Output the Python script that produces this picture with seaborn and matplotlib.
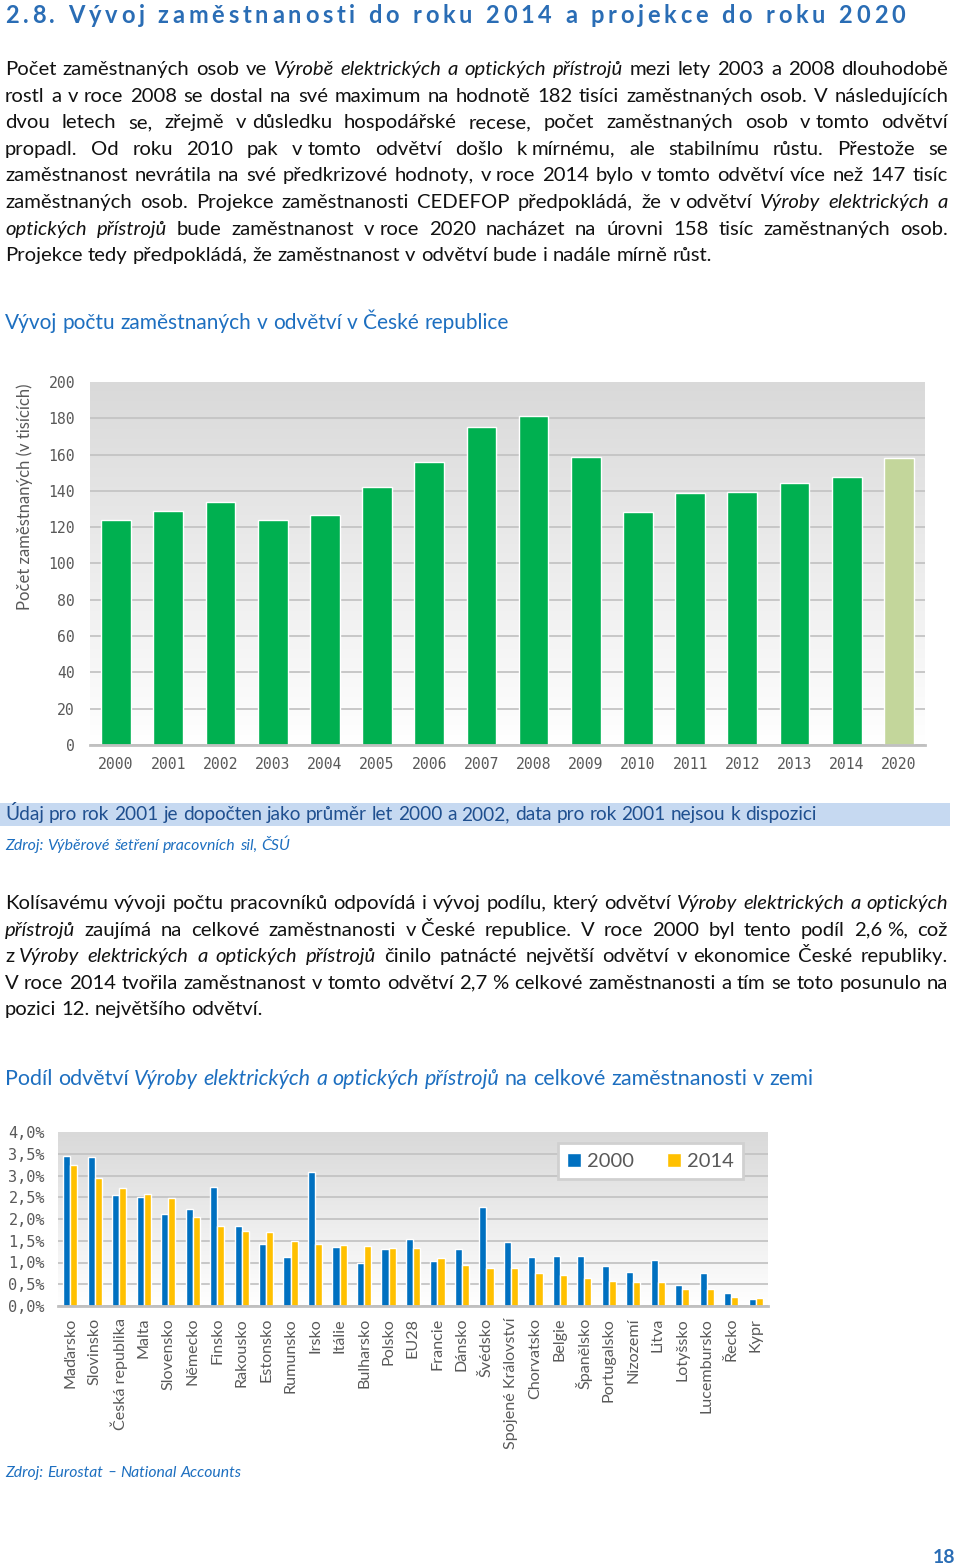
import numpy as np
import pandas as pd
import matplotlib
matplotlib.use("Agg")
import matplotlib.pyplot as plt
import seaborn as sns
from matplotlib.colors import LinearSegmentedColormap
from matplotlib.ticker import FuncFormatter
from matplotlib.patches import Rectangle

# ---------------- data ----------------
years = ["2000", "2001", "2002", "2003", "2004", "2005", "2006", "2007",
         "2008", "2009", "2010", "2011", "2012", "2013", "2014", "2020"]
employment_thousands = [124, 129, 134, 124, 126.5, 142, 156, 175,
                        181.5, 158.5, 128.5, 139, 139.5, 144.5, 147.5, 158]
bar_kind = ["actual"] * 15 + ["projection"]
emp_ticks = [0, 20, 40, 60, 80, 100, 120, 140, 160, 180, 200]

countries = ["Maďarsko", "Slovinsko", "Česká republika", "Malta", "Slovensko",
             "Německo", "Finsko", "Rakousko", "Estonsko", "Rumunsko", "Irsko",
             "Itálie", "Bulharsko", "Polsko", "EU28", "Francie", "Dánsko",
             "Švédsko", "Spojené Království", "Chorvatsko", "Belgie", "Španělsko",
             "Portugalsko", "Nizozemí", "Litva", "Lotyšsko", "Lucembursko",
             "Řecko", "Kypr"]
share_2000 = [3.45, 3.42, 2.56, 2.51, 2.12, 2.24, 2.74, 1.83, 1.43, 1.13, 3.08,
              1.36, 0.99, 1.30, 1.53, 1.03, 1.32, 2.27, 1.48, 1.12, 1.16, 1.15,
              0.93, 0.78, 1.06, 0.49, 0.77, 0.31, 0.15]
share_2014 = [3.25, 2.95, 2.72, 2.57, 2.48, 2.05, 1.83, 1.72, 1.69, 1.49, 1.43,
              1.41, 1.38, 1.34, 1.33, 1.11, 0.95, 0.88, 0.88, 0.75, 0.71, 0.65,
              0.58, 0.56, 0.55, 0.40, 0.38, 0.20, 0.18]
share_years = ["2000", "2014"]
share_ticks = [0.0, 0.5, 1.0, 1.5, 2.0, 2.5, 3.0, 3.5, 4.0]

# ---------------- texts ----------------
page_title = "2.8. Vývoj zaměstnanosti do roku 2014 a projekce do roku 2020"
para1 = [
    [("Počet zaměstnaných osob ve ", False), ("Výrobě elektrických a optických přístrojů", True),
     (" mezi lety 2003 a 2008 dlouhodobě", False)],
    [("rostl a v~roce 2008 se dostal na své maximum na hodnotě 182 tisíci zaměstnaných osob. V následujících", False)],
    [("dvou letech se, zřejmě v~důsledku hospodářské recese, počet zaměstnaných osob v~tomto odvětví", False)],
    [("propadl. Od roku 2010 pak v~tomto odvětví došlo k~mírnému, ale stabilnímu růstu. Přestože se", False)],
    [("zaměstnanost nevrátila na své předkrizové hodnoty, v~roce 2014 bylo v~tomto odvětví více než 147 tisíc", False)],
    [("zaměstnaných osob. Projekce zaměstnanosti CEDEFOP předpokládá, že v~odvětví ", False),
     ("Výroby elektrických a", True)],
    [("optických přístrojů", True),
     (" bude zaměstnanost v~roce 2020 nacházet na úrovni 158 tisíc zaměstnaných osob.", False)],
    [("Projekce tedy předpokládá, že zaměstnanost v~odvětví bude i nadále mírně růst.", False)],
]
chart1_title = [("Vývoj počtu zaměstnaných v odvětví v České republice", False)]
chart1_ylabel = "Počet zaměstnaných (v tisících)"
note_line = [("Údaj pro rok 2001 je dopočten jako průměr let 2000 a 2002, data pro rok 2001 nejsou k dispozici", False)]
source1 = [("Zdroj: Výběrové šetření pracovních sil, ČSÚ", True)]
para2 = [
    [("Kolísavému vývoji počtu pracovníků odpovídá i vývoj podílu, který odvětví ", False),
     ("Výroby elektrických a optických", True)],
    [("přístrojů", True),
     (" zaujímá na celkové zaměstnanosti v~České republice. V roce 2000 byl tento podíl 2,6~%, což", False)],
    [("z~", False), ("Výroby elektrických a optických přístrojů", True),
     (" činilo patnácté největší odvětví v~ekonomice České republiky.", False)],
    [("V~roce 2014 tvořila zaměstnanost v~tomto odvětví 2,7~% celkové zaměstnanosti a tím se toto posunulo na", False)],
    [("pozici 12. největšího odvětví.", False)],
]
chart2_title = [("Podíl odvětví ", False), ("Výroby elektrických a optických přístrojů", True),
                (" na celkové zaměstnanosti v zemi", False)]
source2 = [("Zdroj: Eurostat – National Accounts", True)]
page_number = "18"

# ---------------- setup ----------------
sns.set_style("white")
BODY = ["Lato", "DejaVu Sans"]
MONO = ["DejaVu Sans Mono"]
plt.rcParams["font.family"] = BODY

W, H = 960, 1567
fig = plt.figure(figsize=(W / 100, H / 100), dpi=100)
fig.patch.set_facecolor("white")
renderer = fig.canvas.get_renderer()

BLUE_T = "#2a6db5"
BLUE_C = "#1d6fc0"
TEXT = "#111111"
GRAY = "#595959"


def fx(x):
    return x / W


def fy(y):
    return 1 - y / H


def wtext(s, size, italic=False, weight="normal", family=None):
    t = fig.text(0, 0, s, fontsize=size, style="italic" if italic else "normal",
                 weight=weight, family=family or BODY)
    w = t.get_window_extent(renderer).width
    t.remove()
    return w


def space_w(size, italic=False, weight="normal"):
    return wtext("n n", size, italic, weight) - wtext("nn", size, italic, weight)


def tokenize(line):
    toks = []
    pending = "none"
    for text, it in line:
        buf = ""
        for ch in text:
            if ch in " ~":
                if buf:
                    toks.append([buf, it, pending])
                    buf = ""
                pending = "stretch" if ch == " " else "tie"
            else:
                buf += ch
        if buf:
            toks.append([buf, it, pending])
            pending = "none"
    return toks


def layout(line, size, weight="normal"):
    toks = tokenize(line)
    widths = [wtext(s, size, it, weight) for s, it, _ in toks]
    sw = space_w(size, False, weight)
    return toks, widths, sw


def natural_width(line, size, weight="normal"):
    toks, widths, sw = layout(line, size, weight)
    gaps = sum(sw for t in toks[1:] if t[2] in ("stretch", "tie"))
    return sum(widths) + gaps


def draw_line(line, x0, yb, size, color, x1=None, weight="normal"):
    toks, widths, sw = layout(line, size, weight)
    nst = sum(1 for t in toks[1:] if t[2] == "stretch")
    nti = sum(1 for t in toks[1:] if t[2] == "tie")
    g = sw
    if x1 is not None and nst:
        g = (x1 - x0 - sum(widths) - nti * sw) / nst
    x = x0
    for i, ((s, it, gt), w) in enumerate(zip(toks, widths)):
        if i > 0:
            x += g if gt == "stretch" else (sw if gt == "tie" else 0)
        fig.text(fx(x), fy(yb), s, fontsize=size, style="italic" if it else "normal",
                 weight=weight, color=color, ha="left", va="baseline", family=BODY)
        x += w


def draw_tracked(text, x0, x1, yb, size, color, weight="bold"):
    sw = space_w(size, False, weight)
    widths = [sw if c == " " else wtext(c, size, False, weight) for c in text]
    tr = (x1 - x0 - sum(widths)) / (len(text) - 1)
    x = x0
    for c, w in zip(text, widths):
        if c != " ":
            fig.text(fx(x), fy(yb), c, fontsize=size, weight=weight, color=color,
                     ha="left", va="baseline", family=BODY)
        x += w + tr


def fit(line, target):
    return 10 * target / natural_width(line, 10)


# ---------------- page text ----------------
draw_tracked(page_title, 5, 905, 23, 17, BLUE_T)

body_size = fit(para1[-1], 709)
for i, line in enumerate(para1):
    last = i == len(para1) - 1
    draw_line(line, 5, 75 + 26.6 * i, body_size, TEXT, None if last else 948)

title_size = fit(chart1_title, 505)
draw_line(chart1_title, 5, 329, title_size, BLUE_C)

fig.add_artist(Rectangle((0, fy(826)), 950 / W, 23 / H, transform=fig.transFigure,
                         facecolor="#c6d9f1", edgecolor="none", zorder=0))
draw_line(note_line, 5, 820, fit(note_line, 813), "#1f4f8f")
draw_line(source1, 5, 850, fit(source1, 285), BLUE_C)

for i, line in enumerate(para2):
    last = i == len(para2) - 1
    draw_line(line, 5, 909 + 26.6 * i, body_size, TEXT, None if last else 948)

draw_line(chart2_title, 5, 1085, fit(chart2_title, 807), BLUE_C)
draw_line(source2, 5, 1477, fit(source2, 237), BLUE_C)

fig.text(fx(955), fy(1563), page_number, ha="right", va="baseline", weight="bold",
         color=BLUE_T, fontsize=14, family=BODY)

grad_cmap = LinearSegmentedColormap.from_list("grad", ["#ffffff", "#d9d9d9"])


def add_gradient(ax, n, ymax):
    ax.imshow(np.linspace(0, 1, 256).reshape(-1, 1), cmap=grad_cmap, aspect="auto",
              extent=[-0.5, n - 0.5, 0, ymax], origin="lower", zorder=0)


# ---------------- chart 1 ----------------
ax1 = fig.add_axes([fx(90), fy(745), (925 - 90) / W, (745 - 382) / H])
df1 = pd.DataFrame({"year": years, "emp": employment_thousands, "kind": bar_kind})
sns.barplot(data=df1, x="year", y="emp", hue="kind",
            palette={"actual": "#00b050", "projection": "#c3d69b"},
            dodge=False, width=0.57, saturation=1, legend=False, ax=ax1)
add_gradient(ax1, len(years), emp_ticks[-1])
ax1.set_xlim(-0.5, len(years) - 0.5)
ax1.set_ylim(emp_ticks[0], emp_ticks[-1])
ax1.set_yticks(emp_ticks)
ax1.set_axisbelow(True)
ax1.yaxis.grid(True, color="#c4c4c4", lw=1.3)
ax1.get_ygridlines()[-1].set_visible(False)
for s in ["top", "right", "left"]:
    ax1.spines[s].set_visible(False)
ax1.spines["bottom"].set_color("#c0c0c0")
ax1.spines["bottom"].set_linewidth(2)
ax1.tick_params(axis="y", length=0, pad=10.8)
ax1.tick_params(axis="x", length=0, pad=9)
for lab in ax1.get_xticklabels() + ax1.get_yticklabels():
    lab.set_fontfamily(MONO)
    lab.set_fontsize(10.6)
    lab.set_color(GRAY)
ax1.set_xlabel("")
ax1.set_ylabel("")
ylab_size = 10 * 227 / wtext(chart1_ylabel, 10)
fig.text(fx(25), fy(497), chart1_ylabel, rotation=90, ha="center", va="center",
         fontsize=ylab_size, color=GRAY, family=BODY)

# ---------------- chart 2 ----------------
ax2 = fig.add_axes([fx(58), fy(1306), (768 - 58) / W, (1306 - 1132) / H])
df2 = pd.concat([
    pd.DataFrame({"country": countries, "year": share_years[0], "share": share_2000}),
    pd.DataFrame({"country": countries, "year": share_years[1], "share": share_2014}),
], ignore_index=True)
sns.barplot(data=df2, x="country", y="share", hue="year",
            palette=["#0070c0", "#ffc000"], width=0.58, saturation=1, ax=ax2)
add_gradient(ax2, len(countries), share_ticks[-1])
ax2.set_xlim(-0.5, len(countries) - 0.5)
ax2.set_ylim(share_ticks[0], share_ticks[-1])
ax2.set_yticks(share_ticks)
ax2.yaxis.set_major_formatter(FuncFormatter(lambda v, p: f"{v:.1f}%".replace(".", ",")))
ax2.set_axisbelow(True)
ax2.yaxis.grid(True, color="#c4c4c4", lw=1.3)
ax2.get_ygridlines()[-1].set_visible(False)
for s in ["top", "right", "left"]:
    ax2.spines[s].set_visible(False)
ax2.spines["bottom"].set_color("#c0c0c0")
ax2.spines["bottom"].set_linewidth(2)
ax2.tick_params(axis="y", length=0, pad=9.4)
ax2.tick_params(axis="x", length=0, pad=8.6)
for lab in ax2.get_yticklabels():
    lab.set_fontfamily(MONO)
    lab.set_fontsize(11)
    lab.set_color(GRAY)
xt_size = 10 * 132 / wtext("Spojené Království", 10)
for lab in ax2.get_xticklabels():
    lab.set_rotation(90)
    lab.set_ha("center")
    lab.set_va("top")
    lab.set_fontsize(xt_size)
    lab.set_color(GRAY)
ax2.set_xlabel("")
ax2.set_ylabel("")
handles, labels = ax2.get_legend_handles_labels()
leg = ax2.legend(handles, labels, loc="center", bbox_to_anchor=(0.8345, 0.833), ncol=2,
                 frameon=True, fancybox=False, fontsize=14.5, handlelength=0.7,
                 handleheight=0.7, handletextpad=0.3, columnspacing=1.6, borderpad=0.45,
                 labelcolor=GRAY)
leg.get_frame().set_edgecolor("#d0d0d0")
leg.get_frame().set_linewidth(2)
leg.get_frame().set_facecolor("white")
leg.get_frame().set_alpha(1)

fig.savefig("out.png", dpi=100, facecolor="white")
